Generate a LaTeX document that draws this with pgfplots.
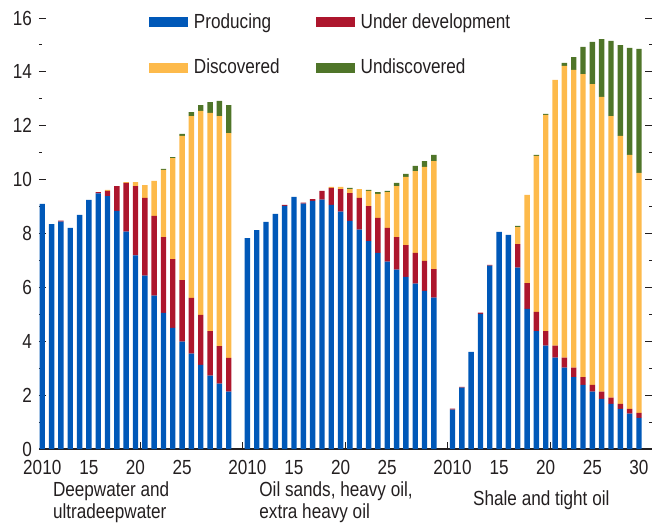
\documentclass[border=0pt]{standalone}
\usepackage{fontspec}
\setmainfont{Liberation Sans}[FakeStretch=0.84]
\usepackage{pgfplots}
\pgfplotsset{compat=1.18}
\usepackage{pgfplotstable}
\definecolor{cblue}{RGB}{0,88,184}
\definecolor{cred}{RGB}{173,22,45}
\definecolor{cgold}{RGB}{253,186,75}
\definecolor{cgreen}{RGB}{79,117,41}
\definecolor{ctext}{RGB}{35,31,32}
\pgfplotstableread{
x prod dev disc undisc
0 9.10 0 0 0
1 8.35 0 0 0
2 8.44 0.04 0 0
3 8.21 0 0 0
4 8.69 0 0 0
5 9.25 0 0 0
6 9.49 0.05 0 0
7 9.39 0.19 0.04 0
8 8.84 0.92 0 0
9 8.07 1.81 0.03 0
10 7.19 2.57 0.15 0
11 6.44 2.88 0.48 0
12 5.69 2.96 1.30 0
13 5.05 2.82 2.49 0.04
14 4.50 2.55 3.75 0.04
15 3.99 2.28 5.35 0.08
16 3.54 2.07 6.75 0.15
17 3.12 1.86 7.57 0.22
18 2.72 1.66 8.10 0.40
19 2.43 1.39 8.54 0.56
20 2.13 1.25 8.35 1.04
22 7.83 0 0 0
23 8.13 0 0 0
24 8.43 0 0 0
25 8.73 0 0 0
26 9.03 0.03 0 0
27 9.36 0 0 0
28 9.11 0.04 0 0
29 9.21 0.07 0 0
30 9.26 0.32 0 0
31 9.06 0.63 0.04 0
32 8.81 0.84 0.08 0
33 8.47 1.03 0.15 0.04
34 8.14 1.18 0.33 0
35 7.72 1.30 0.56 0.04
36 7.28 1.30 0.89 0.07
37 6.96 1.25 1.33 0.04
38 6.66 1.21 1.89 0.12
39 6.39 1.18 2.53 0.11
40 6.14 1.14 3.04 0.19
41 5.87 1.11 3.49 0.22
42 5.62 1.06 4.01 0.23
44 1.46 0.04 0 0
45 2.28 0.03 0 0
46 3.61 0 0 0
47 5.02 0.04 0 0
48 6.81 0.03 0 0
49 8.06 0 0 0
50 7.95 0 0 0
51 6.73 0.88 0.63 0.04
52 5.20 0.96 3.27 0
53 4.38 0.71 5.79 0.04
54 3.84 0.54 8.02 0.04
55 3.39 0.45 9.86 0
56 3.02 0.37 10.83 0.11
57 2.67 0.35 11.05 0.48
58 2.38 0.29 11.25 1.01
59 2.13 0.25 11.17 1.56
60 1.86 0.27 10.94 2.15
61 1.68 0.23 10.45 2.79
62 1.49 0.19 9.94 3.37
63 1.31 0.18 9.43 3.97
64 1.16 0.18 8.91 4.60
}\datatable
\pgfplotsset{mylegend/.style={legend image code/.code={\fill[##1] (0pt,-2.4pt) rectangle (19.5pt,2.4pt);}}}
\begin{document}
\begin{tikzpicture}
\path[use as bounding box] (0,0) rectangle (326pt,263.5pt);
\begin{axis}[
  at={(19.5pt,39pt)}, anchor=south west,
  scale only axis, width=306.5pt, height=215.5pt,
  xmin=-0.35, xmax=65.4, ymin=0, ymax=16,
  ybar stacked, bar width=2.7pt,
  axis x line*=bottom, separate axis lines,
  x axis line style={draw=ctext, line width=0.7pt, -},
  y axis line style={draw=none},
  tick align=inside,
  ytick={0,2,...,16}, minor y tick num=1,
  major tick length=3.3pt, minor tick length=1.6pt,
  ytick style={draw=ctext, line width=0.5pt},
  xtick={10.5,21.5,32.5,43.5,54.5},
  xticklabels={},
  xtick style={draw=ctext, line width=0.5pt},
  extra x ticks={0,5,10,15,22,27,32,37,44,49,54,59,64},
  extra x tick labels={2010,15,20,25,2010,15,20,25,2010,15,20,25,30},
  extra x tick style={xtick style={draw=none}},
  /pgf/number format/assume math mode=true,
  tick label style={font=\fontsize{10.2}{12}\selectfont, text=ctext},
  xticklabel style={yshift=-2.3pt},
  legend columns=2,
  legend cell align=left,
  legend style={at={(axis description cs:0.1794,1.02)}, anchor=north west,
    draw=none, fill=none, inner sep=0pt, outer sep=0pt,
    font=\fontsize{10.2}{12}\selectfont, text=ctext, row sep=10pt,
    /tikz/every odd column/.append style={column sep=1pt},
    /tikz/every even column/.append style={column sep=16pt}},
]
\addplot[fill=cblue, draw=none, mylegend] table[x=x, y=prod] {\datatable};
\addplot[fill=cred, draw=none, mylegend] table[x=x, y=dev] {\datatable};
\addplot[fill=cgold, draw=none, mylegend] table[x=x, y=disc] {\datatable};
\addplot[fill=cgreen, draw=none, mylegend] table[x=x, y=undisc] {\datatable};
\legend{Producing, Under development, Discovered, Undiscovered}
\end{axis}
\begin{scope}[every node/.style={font=\fontsize{10.2}{12}\selectfont, text=ctext, inner sep=0pt, anchor=base west}]
\node at (26.3pt,15.25pt) {Deepwater and};
\node at (26.3pt,4.25pt) {ultradeepwater};
\node at (129.5pt,15.25pt) {Oil sands, heavy oil,};
\node at (129.5pt,4.25pt) {extra heavy oil};
\node at (236.4pt,10.65pt) {Shale and tight oil};
\end{scope}
\end{tikzpicture}
\end{document}
